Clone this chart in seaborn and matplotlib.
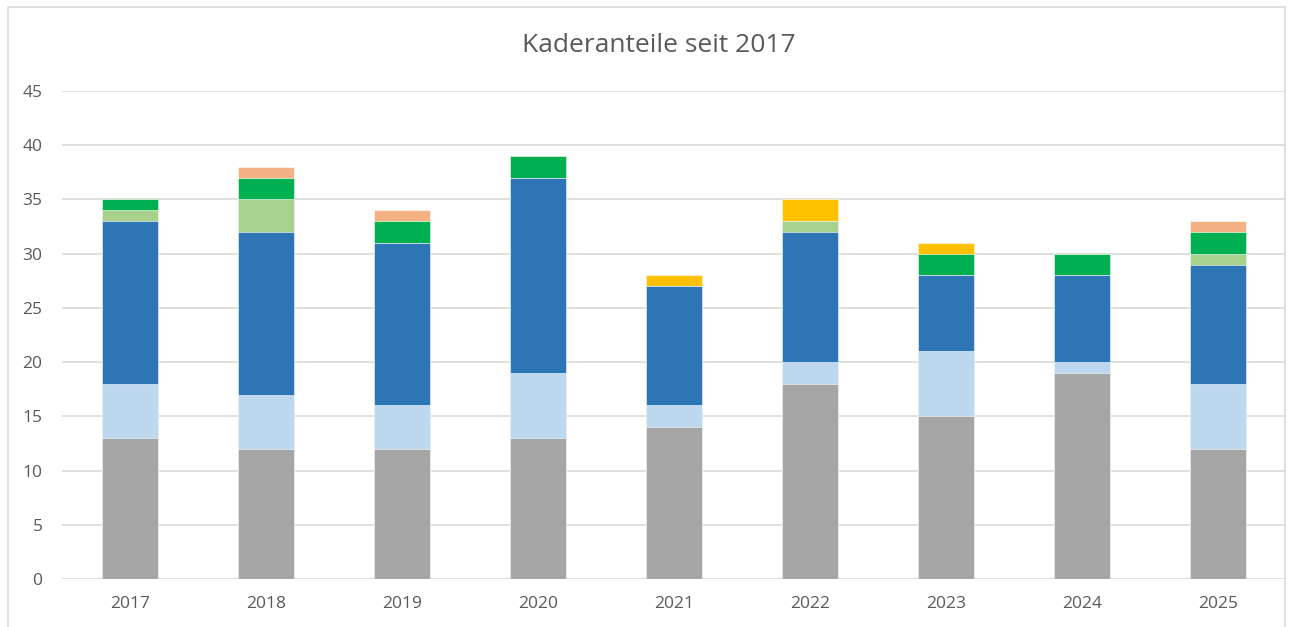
import numpy as np
import pandas as pd
import matplotlib
matplotlib.use("Agg")
import matplotlib.pyplot as plt
import seaborn as sns

years = ["2017", "2018", "2019", "2020", "2021", "2022", "2023", "2024", "2025"]

# Segmente von unten nach oben
grau = [13, 12, 12, 13, 14, 18, 15, 19, 12]
hellblau = [5, 5, 4, 6, 2, 2, 6, 1, 6]
blau = [15, 15, 15, 18, 11, 12, 7, 8, 11]
hellgruen = [1, 3, 0, 0, 0, 1, 0, 0, 1]
gruen = [1, 2, 2, 2, 0, 0, 2, 2, 2]
gelb = [0, 0, 0, 0, 1, 2, 1, 0, 0]
orange = [0, 1, 1, 0, 0, 0, 0, 0, 1]

layers = [grau, hellblau, blau, hellgruen, gruen, gelb, orange]
colors = ["#A5A5A5", "#BDD7EE", "#2E75B6", "#A9D18E", "#00B050", "#FFC000", "#F4B183"]

sns.set_style("white")
plt.rcParams["font.family"] = ["Open Sans", "DejaVu Sans"]

fig = plt.figure(figsize=(12.92, 6.27), dpi=100)
ax = fig.add_axes([62 / 1292, 1 - 579 / 627, 1224 / 1292, 488 / 627])

# kumulierte Summen, höchste Schicht zuerst zeichnen
cum = np.cumsum(np.array(layers), axis=0)
for i in range(len(layers) - 1, -1, -1):
    df = pd.DataFrame({"Jahr": years, "Wert": cum[i]})
    sns.barplot(data=df, x="Jahr", y="Wert", color=colors[i], width=0.405,
                saturation=1, ax=ax, edgecolor="white", linewidth=0.4, zorder=3)

ax.set_xlim(-0.5, 8.5)
ax.set_ylim(0, 45)
ax.set_yticks(range(0, 50, 5))
ax.grid(axis="y", color="#D9D9D9", linewidth=1.2, zorder=0)
ax.set_axisbelow(True)
for s in ax.spines.values():
    s.set_visible(False)
ax.set_xlabel("")
ax.set_ylabel("")
ax.tick_params(axis="both", length=0, labelsize=12.5, colors="#595959")
ax.tick_params(axis="y", pad=14)
ax.tick_params(axis="x", pad=12)

fig.text(0.51, 1 - 45 / 627, "Kaderanteile seit 2017", ha="center", va="center",
         fontsize=19, color="#595959")

# Rahmen des Diagrammbereichs
frame = plt.Rectangle((8 / 1292, -0.05), 1277 / 1292, 1.05 - 7 / 627,
                      transform=fig.transFigure, fill=False,
                      edgecolor="#D9D9D9", linewidth=1.2)
fig.patches.append(frame)

fig.savefig("out.png", dpi=100)
